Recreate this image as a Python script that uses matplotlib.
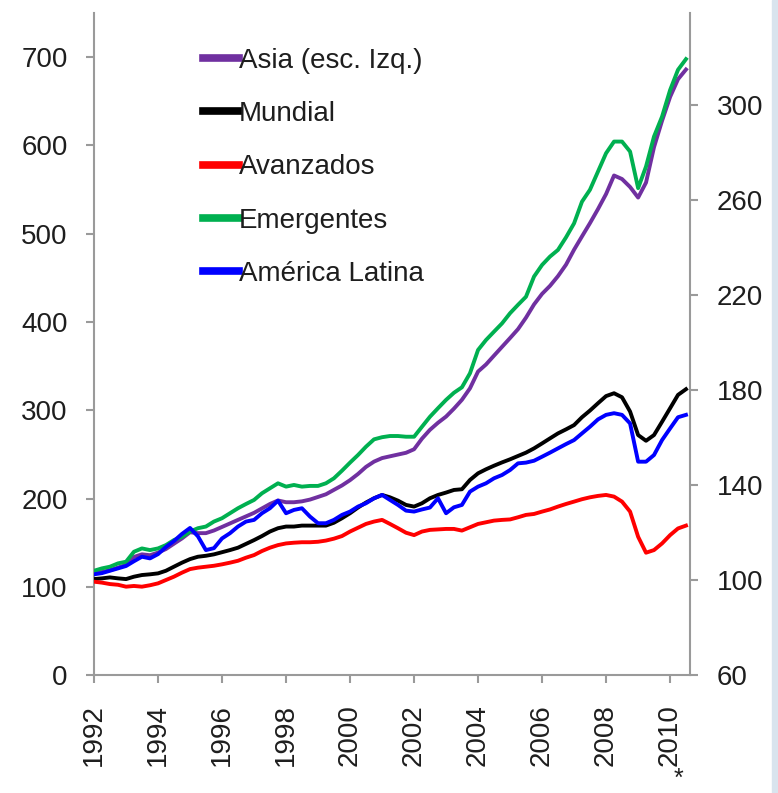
import matplotlib.pyplot as plt
import matplotlib.dates as mdates
import pandas as pd
from matplotlib.lines import Line2D
from matplotlib.patches import Rectangle

plt.rcParams['font.family'] = ['Liberation Sans', 'DejaVu Sans']

# quarterly observations, 1992 Q1 .. 2010 Q3
fechas = pd.date_range('1992-01-01', periods=75, freq='QS')

# Asia, left scale
asia = [116, 117, 119, 122,
        125, 134, 137, 136,
        139, 143, 149, 155,
        162, 161, 161, 164,
        168, 172, 176, 180,
        184, 189, 194, 198,
        196, 196, 197, 199,
        202, 205, 210, 215,
        221, 228, 236, 242,
        246, 248, 250, 252,
        256, 268, 278, 286,
        293, 302, 312, 325,
        344, 352, 362, 372,
        382, 392, 405, 420,
        432, 441, 452, 465,
        482, 497, 512, 528,
        545, 566, 562, 553,
        541, 558, 598, 628,
        655, 675, 686]

# right scale
mundial = [100.5, 100.8, 101.2, 100.8,
           100.5, 101.5, 102.2, 102.5,
           102.9, 104.0, 105.7, 107.4,
           108.9, 109.9, 110.3, 110.9,
           111.8, 112.7, 113.7, 115.3,
           116.9, 118.6, 120.5, 121.9,
           122.6, 122.6, 123.0, 123.0,
           123.0, 123.0, 124.2, 126.1,
           128.2, 130.6, 132.7, 134.5,
           135.9, 134.9, 133.5, 131.7,
           131.0, 132.4, 134.5, 135.9,
           136.9, 138.0, 138.3, 142.2,
           145.0, 146.7, 148.2, 149.6,
           150.9, 152.3, 153.7, 155.5,
           157.6, 159.7, 161.8, 163.5,
           165.3, 168.6, 171.4, 174.5,
           177.5, 178.7, 177.0, 171.0,
           161.1, 158.7, 161.1, 166.7,
           172.4, 178.0, 180.4]

avanzados = [99.4, 99.0, 98.4, 98.1,
             97.3, 97.6, 97.3, 97.9,
             98.7, 100.1, 101.5, 103.2,
             104.7, 105.3, 105.7, 106.1,
             106.7, 107.4, 108.2, 109.5,
             110.6, 112.3, 113.7, 114.8,
             115.5, 115.8, 116.0, 116.0,
             116.2, 116.7, 117.5, 118.6,
             120.5, 122.1, 123.7, 124.7,
             125.4, 123.7, 121.9, 120.0,
             119.0, 120.5, 121.2, 121.4,
             121.6, 121.6, 120.9, 122.3,
             123.7, 124.4, 125.1, 125.4,
             125.6, 126.5, 127.5, 127.9,
             128.9, 129.8, 131.0, 132.1,
             133.1, 134.1, 134.9, 135.5,
             135.9, 135.2, 133.1, 128.9,
             118.3, 111.6, 112.7, 115.5,
             119.0, 121.8, 123.0]

emergentes = [104.0, 105.0, 105.7, 107.1,
              107.8, 112.0, 113.4, 112.7,
              113.4, 114.8, 116.9, 118.3,
              120.5, 121.9, 122.6, 124.7,
              126.1, 128.2, 130.3, 132.1,
              133.8, 136.6, 138.7, 140.8,
              139.4, 140.1, 139.4, 139.7,
              139.7, 140.8, 142.9, 146.1,
              149.5, 152.7, 156.2, 159.3,
              160.2, 160.7, 160.7, 160.4,
              160.4, 164.6, 168.8, 172.4,
              175.9, 178.9, 181.2, 187.1,
              196.9, 201.1, 204.6, 208.1,
              212.4, 215.9, 219.3, 227.8,
              232.7, 236.2, 239.0, 244.3,
              250.2, 259.3, 264.3, 272.0,
              279.7, 284.6, 284.6, 280.4,
              265.0, 274.1, 286.7, 295.1,
              306.3, 314.8, 319.3]

america_latina = [102.5, 103.0, 104.0, 105.0,
                  106.0, 108.0, 109.9, 109.2,
                  111.0, 114.0, 116.5, 119.5,
                  122.0, 118.5, 112.7, 113.5,
                  117.6, 119.8, 122.6, 124.7,
                  125.4, 128.2, 130.3, 133.5,
                  128.2, 129.6, 130.3, 126.8,
                  124.0, 124.0, 125.4, 127.5,
                  128.9, 131.0, 132.4, 134.5,
                  135.9, 133.8, 131.7, 129.3,
                  128.9, 129.8, 130.6, 134.5,
                  128.2, 130.7, 131.7, 137.3,
                  139.4, 140.8, 142.9, 144.3,
                  146.4, 149.2, 149.5, 150.3,
                  152.0, 153.7, 155.5, 157.3,
                  159.0, 161.8, 164.6, 167.7,
                  169.6, 170.3, 169.6, 166.0,
                  149.9, 149.9, 152.7, 159.0,
                  163.9, 168.6, 169.6]

etiquetas = ['Asia (esc. Izq.)', 'Mundial', 'Avanzados', 'Emergentes', 'América Latina']
colores = ['#7030a0', '#000000', '#ff0000', '#00b050', '#0000ff']

gris = '#9a9a9a'
texto = '#1e1e1e'

fig = plt.figure(figsize=(7.78, 7.93), dpi=100)
ax = fig.add_axes([0.1208, 0.1484, 0.7661, 0.8352])
ax2 = ax.twinx()

lw = 2.8
ax.plot(fechas, asia, color=colores[0], lw=lw)
ax2.plot(fechas, mundial, color=colores[1], lw=lw)
ax2.plot(fechas, avanzados, color=colores[2], lw=lw)
ax2.plot(fechas, emergentes, color=colores[3], lw=lw)
ax2.plot(fechas, america_latina, color=colores[4], lw=lw)

ax.set_xlim(pd.Timestamp('1992-01-01'), pd.Timestamp('2010-08-16'))
ax.set_ylim(0, 750)
ax2.set_ylim(60, 338.7)
ax.set_yticks(range(0, 701, 100))
ax2.set_yticks(range(60, 301, 40))
ax.xaxis.set_major_locator(mdates.YearLocator(2))
ax.xaxis.set_major_formatter(mdates.DateFormatter('%Y'))
for lab in ax.get_xticklabels():
    lab.set_rotation(90)

for a in (ax, ax2):
    a.spines['top'].set_visible(False)
    for s in ('left', 'bottom', 'right'):
        a.spines[s].set_color(gris)
        a.spines[s].set_linewidth(1.5)
ax.spines['right'].set_visible(False)
ax2.spines['left'].set_visible(False)
ax2.spines['bottom'].set_visible(False)

ax.tick_params(axis='y', direction='out', length=6, width=1.5, color=gris,
               labelsize=20, labelcolor=texto, pad=13)
ax.tick_params(axis='x', direction='out', length=6, width=1.5, color=gris,
               labelsize=20, labelcolor=texto, pad=15)
ax2.tick_params(axis='y', direction='out', length=6, width=1.5, color=gris,
                labelsize=20, labelcolor=texto, pad=13)

handles = [Line2D([], [], color=c, lw=5.5) for c in colores]
leg = ax2.legend(handles, etiquetas, loc='upper left',
                 bbox_to_anchor=(203 / 778, 1 - 48 / 793),
                 bbox_transform=fig.transFigure, frameon=False,
                 fontsize=20, handlelength=1.3, handletextpad=0.0,
                 labelspacing=0.98, borderpad=0, borderaxespad=0)
for t in leg.get_texts():
    t.set_color(texto)

fig.text(678 / 778, 1 - 779 / 793, '*', ha='center', va='center',
         fontsize=18, color=texto)

# light strip at the right edge of the screenshot
fig.patches.append(Rectangle((772 / 778, 0), 6 / 778, 1, transform=fig.transFigure,
                             color='#d9e4ee', zorder=-1))

fig.savefig('out.png', dpi=100)
